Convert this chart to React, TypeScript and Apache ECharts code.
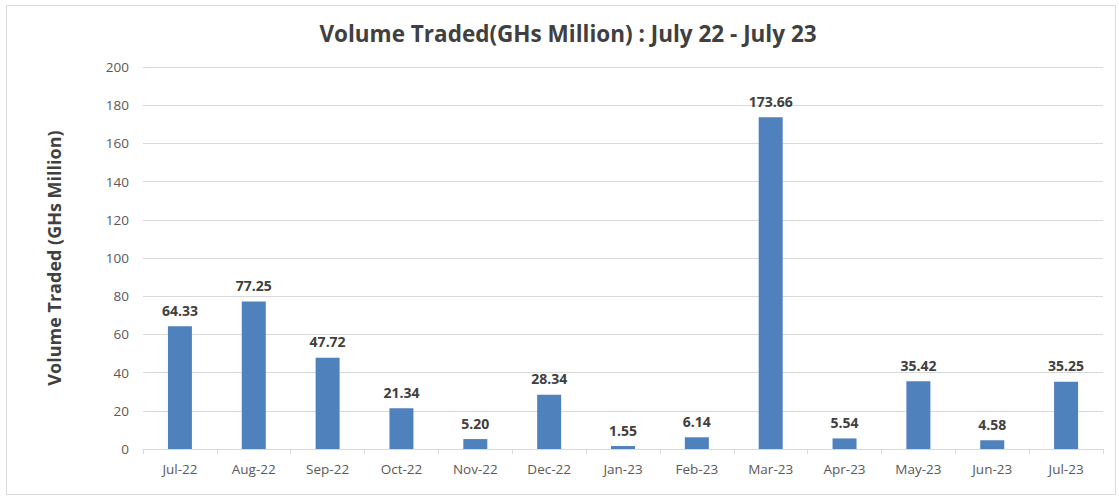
import React, { useEffect, useRef } from "react";
import * as echarts from "echarts";

const categories = ["Jul-22", "Aug-22", "Sep-22", "Oct-22", "Nov-22", "Dec-22", "Jan-23", "Feb-23", "Mar-23", "Apr-23", "May-23", "Jun-23", "Jul-23"];
const volumes = [64.33, 77.25, 47.72, 21.34, 5.2, 28.34, 1.55, 6.14, 173.66, 5.54, 35.42, 4.58, 35.25];
const titleText = "Volume Traded(GHs Million) : July 22 - July 23";
const yAxisTitle = "Volume Traded (GHs Million)";

const FONT = "'Open Sans', Lato, sans-serif";

export default function App() {
  const ref = useRef<HTMLDivElement>(null);
  useEffect(() => {
    document.body.style.margin = "0";
    const chart = echarts.init(ref.current!, null, { renderer: "svg" });
    chart.setOption({
      animation: false,
      backgroundColor: "#ffffff",
      title: {
        text: titleText,
        left: 563,
        textAlign: "center",
        top: 17,
        textStyle: { fontFamily: FONT, fontSize: 22.5, fontWeight: "bold", color: "#404040" },
      },
      graphic: [
        {
          type: "rect",
          shape: { x: 6.5, y: 5.5, width: 1109, height: 489 },
          style: { fill: "none", stroke: "#d9d9d9", lineWidth: 1 },
          silent: true,
          z: -1,
        },
      ],
      grid: { left: 143, right: 16, top: 67, bottom: 47 },
      xAxis: {
        type: "category",
        data: categories,
        axisLine: { lineStyle: { color: "#d9d9d9" } },
        axisTick: { show: true, length: 5, lineStyle: { color: "#d9d9d9" } },
        axisLabel: { fontFamily: FONT, fontSize: 13.5, color: "#595959", margin: 13 },
      },
      yAxis: {
        type: "value",
        min: 0,
        max: 200,
        interval: 20,
        name: yAxisTitle,
        nameLocation: "middle",
        nameGap: 80,
        nameTextStyle: { fontFamily: FONT, fontSize: 18, fontWeight: "bold", color: "#404040" },
        axisLine: { show: false },
        axisTick: { show: false },
        splitLine: { lineStyle: { color: "#d9d9d9" } },
        axisLabel: { fontFamily: FONT, fontSize: 13.5, color: "#595959", margin: 14 },
      },
      series: [
        {
          type: "bar",
          data: volumes,
          barWidth: 24,
          itemStyle: { color: "#4f81bd" },
          label: {
            show: true,
            position: "top",
            distance: 9,
            formatter: (p: any) => Number(p.value).toFixed(2),
            fontFamily: FONT,
            fontSize: 14,
            fontWeight: "bold",
            color: "#404040",
          },
        },
      ],
    });
    return () => chart.dispose();
  }, []);
  return <div ref={ref} style={{ width: 1119, height: 496 }} />;
}
